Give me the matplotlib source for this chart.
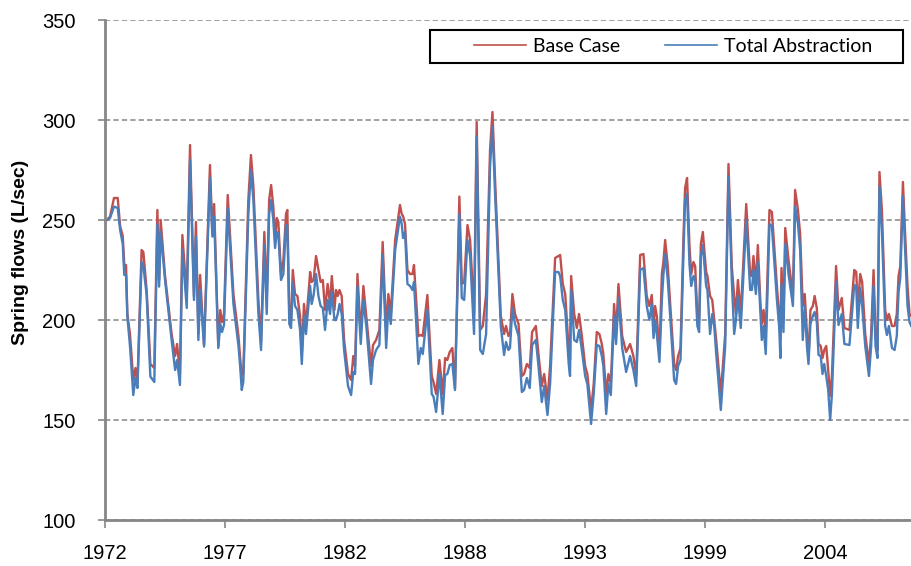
import matplotlib
matplotlib.use("Agg")
import matplotlib.pyplot as plt
from matplotlib.patches import Rectangle

plt.rcParams["font.family"] = ["Liberation Sans", "DejaVu Sans"]

# decimal year of each reading
dates = [
    1972.08, 1972.23, 1972.41, 1972.58, 1972.69, 1972.81, 1972.88, 1972.96, 1973.02, 1973.14,
    1973.29, 1973.39, 1973.48, 1973.67, 1973.75, 1973.90, 1974.07, 1974.25, 1974.39, 1974.47,
    1974.54, 1974.74, 1975.04, 1975.20, 1975.29, 1975.42, 1975.53, 1975.73, 1975.88, 1976.06,
    1976.15, 1976.26, 1976.34, 1976.52, 1976.79, 1976.90, 1976.98, 1977.17, 1977.26, 1977.34,
    1977.43, 1977.60, 1977.86, 1978.09, 1978.16, 1978.24, 1978.31, 1978.54, 1978.66, 1978.77,
    1979.00, 1979.12, 1979.27, 1979.38, 1979.49, 1979.58, 1979.68, 1979.76, 1979.84, 1979.91,
    1980.03, 1980.14, 1980.26, 1980.32, 1980.41, 1980.49, 1980.57, 1980.67, 1980.78, 1980.90,
    1980.98, 1981.08, 1981.17, 1981.36, 1981.43, 1981.52, 1981.63, 1981.74, 1981.84, 1981.94,
    1982.04, 1982.16, 1982.27, 1982.35, 1982.47, 1982.54, 1982.62, 1982.70, 1982.80, 1982.91,
    1983.09, 1983.23, 1983.33, 1983.41, 1983.52, 1983.67, 1983.79, 1983.94, 1984.14, 1984.23,
    1984.37, 1984.52, 1984.67, 1984.83, 1984.93, 1985.04, 1985.24, 1985.46, 1985.54, 1985.60,
    1985.69, 1985.80, 1985.92, 1986.03, 1986.10, 1986.30, 1986.41, 1986.50, 1986.71, 1986.91,
    1986.99, 1987.11, 1987.26, 1987.41, 1987.52, 1987.62, 1987.73, 1987.85, 1987.97, 1988.17,
    1988.28, 1988.39, 1988.54, 1988.66, 1988.84, 1988.96, 1989.12, 1989.24, 1989.39, 1989.57,
    1989.68, 1989.80, 1990.06, 1990.21, 1990.30, 1990.41, 1990.48, 1990.59, 1990.71, 1990.87,
    1991.02, 1991.12, 1991.25, 1991.38, 1991.49, 1991.66, 1991.78, 1991.93, 1992.04, 1992.19,
    1992.31, 1992.54, 1992.69, 1992.77, 1992.89, 1993.00, 1993.16, 1993.22, 1993.27, 1993.41,
    1993.53, 1993.63, 1993.76, 1993.91, 1994.01, 1994.18, 1994.30, 1994.44, 1994.56, 1994.67,
    1994.74, 1994.87, 1994.97, 1995.08, 1995.23, 1995.32, 1995.43, 1995.60, 1995.78, 1995.96,
    1996.11, 1996.24, 1996.42, 1996.57, 1996.72, 1996.84, 1996.95, 1997.03, 1997.10, 1997.18,
    1997.30, 1997.41, 1997.48, 1997.56, 1997.68, 1997.79, 1997.97, 1998.06, 1998.15, 1998.26,
    1998.40, 1998.47, 1998.56, 1998.67, 1998.75, 1998.85, 1998.93, 1999.03, 1999.11, 1999.19,
    1999.28, 1999.43, 1999.49, 1999.61, 1999.71, 1999.80, 1999.89, 2000.10, 2000.30, 2000.45,
    2000.60, 2000.71, 2000.79, 2000.88, 2001.01, 2001.26, 2001.44, 2001.52, 2001.59, 2001.70,
    2001.79, 2001.90, 2001.97, 2002.05, 2002.15, 2002.32, 2002.43, 2002.66, 2002.76, 2002.82,
    2002.87, 2002.96, 2003.04, 2003.19, 2003.39, 2003.49, 2003.62, 2003.72, 2003.84, 2003.93,
    2004.03, 2004.10, 2004.19, 2004.30, 2004.38, 2004.48, 2004.56, 2004.66, 2004.74, 2004.82,
    2004.91, 2005.00, 2005.09, 2005.17, 2005.36, 2005.47, 2005.62, 2005.74, 2005.97, 2006.19,
    2006.28, 2006.35, 2006.46, 2006.55, 2006.69, 2006.86, 2006.96, 2007.07, 2007.16, 2007.25,
    2007.34, 2007.45, 2007.60, 2007.68, 2007.77, 2007.91, 2008.03, 2008.13, 2008.21, 2008.29,
    2008.41, 2008.51, 2008.62, 2008.71, 2008.79,
]

base_case = [
    250, 251.7, 261, 261, 247, 242, 227.5, 227.5, 203, 193,
    170, 176, 168, 235, 234, 215, 178, 176, 255, 220,
    250, 222, 193, 182, 188, 173, 242.5, 212, 287.5, 212,
    249, 193, 222.5, 187.5, 277.5, 243, 258, 187, 205, 199,
    203, 262.5, 213, 192, 182, 172, 173, 260, 282.5, 267,
    210, 189, 244, 210, 260, 267.5, 256.7, 240, 251, 249,
    223, 230, 253, 255, 203, 200, 225, 213, 212, 202,
    183, 208, 197, 224, 219, 220, 232, 225, 219, 220,
    205, 218, 208, 222, 205, 215, 212, 215, 212, 190,
    173, 170, 182, 177, 223, 193, 217, 200, 177, 187.5,
    190, 195, 239, 195, 213, 203, 240, 257.5, 253, 252,
    248, 225, 223, 223, 227.5, 192, 192.5, 192, 212.5, 172,
    169, 163, 180, 163, 181, 180, 184, 186, 166, 261.7,
    218, 219, 247.5, 240, 203, 299, 195, 197, 213, 285,
    304, 270, 202, 193, 197, 192, 192.5, 213, 203, 198,
    172, 173, 178, 176, 194, 197, 183, 167, 173, 160,
    177, 231, 232, 232.5, 218, 213, 185, 180, 222, 203,
    196, 203, 192, 177, 173, 155, 168, 194, 193, 188,
    183, 163, 173, 168, 208, 193, 218, 192, 184, 188,
    182, 172, 232.5, 233, 212, 207, 212.5, 197, 207, 202,
    183, 223, 229, 240, 227, 208, 178, 175, 182, 186,
    243, 266, 271, 237, 223, 229, 227, 202, 200, 238,
    244, 224, 222, 212, 210, 200, 190, 163, 193, 278,
    227, 212, 203, 220, 203, 258, 222.5, 222, 232, 218,
    237.5, 210, 198, 205, 193, 255, 254, 217, 202, 195,
    226, 200, 246, 230, 212, 265, 255, 243, 207, 213,
    193, 180, 205, 207, 212, 206, 188, 187, 181, 185,
    187, 175, 162, 172, 227, 205, 211, 196, 195, 225,
    224, 205, 223, 219, 193, 178, 193, 225, 193, 185,
    274, 255, 205, 200, 203, 197, 197, 203, 222, 227,
    269, 243, 217, 203, 202,
]

total_abstraction = [
    250, 251, 256.7, 256, 245, 238, 222.5, 222.5, 201.7, 187,
    162.5, 171, 166, 229, 227, 212.5, 171.7, 169, 248, 216.7,
    244, 220, 190, 175, 180, 167.5, 235, 206, 280, 210,
    241.7, 190, 215, 186.7, 271, 241.7, 251.7, 186, 198, 194,
    197.5, 256, 208, 187, 178, 165, 169, 253, 275, 260,
    203, 185, 237.5, 203, 253, 260, 250, 236, 244, 243,
    220, 223, 247.5, 247, 198, 196, 219, 207, 205, 195,
    178, 202, 193, 217, 208, 212.5, 223, 212, 207, 206,
    195, 210, 203, 214, 200, 200, 203, 208, 203, 185,
    167, 162.5, 174, 173, 217, 188, 210, 195, 168, 180,
    185, 187.5, 232.5, 186, 207, 198, 235, 251.7, 248, 241,
    244, 218, 217, 215, 219, 178, 186, 183, 205, 163,
    161.7, 154, 173, 153, 172.5, 173, 177.5, 178, 165, 253,
    211, 210, 240, 232, 193, 291.7, 185, 183, 193, 276.7,
    296.7, 263, 197, 182.5, 189, 185, 186, 206, 198, 192,
    164, 165, 171, 166, 187.5, 190, 177, 159, 167, 152.5,
    168, 224, 224, 222, 210, 205, 178, 172, 215, 190,
    189, 195, 185, 172, 168, 148, 163, 187.5, 187, 182,
    177, 153, 168, 162.5, 202, 188, 211, 186, 174, 182,
    175, 167, 225, 226, 207, 200, 208, 191, 200, 193,
    179, 210, 222.5, 233, 220, 202, 170, 168, 177, 180,
    235, 260, 263, 228, 217, 222, 220, 197, 194, 232,
    237.5, 217, 215, 193, 203, 197, 183, 155, 187, 271.7,
    220, 193, 200, 212, 196, 250, 215, 215, 225, 213,
    229, 205, 190, 197, 183, 248, 247, 210, 197, 181,
    218, 194, 238, 223, 207, 256.7, 248, 235, 190, 207,
    187, 178, 198, 202, 204, 199, 182.5, 182, 173, 178,
    172, 165, 150, 163, 219, 197.5, 203, 188, 187.5, 217.5,
    216.7, 196, 216, 207, 187, 172, 187, 217, 187, 181,
    266.7, 245, 197, 192.5, 197, 186, 185, 192, 214, 221,
    262, 235, 207, 199, 197,
]

tick_labels = ["1972", "1977", "1982", "1988", "1993", "1999", "2004"]

fig = plt.figure(figsize=(9.11, 5.66), dpi=100)
ax = fig.add_axes([105 / 911, 1 - 520 / 566, 807 / 911, 500 / 566])

ax.plot(dates, base_case, color="#C0504D", lw=1.7, label="Base Case")
ax.plot(dates, total_abstraction, color="#4A7EBB", lw=1.7, label="Total Abstraction")

# Excel date axis: a major tick every 2000 days
ticks = [1972 + i * 2000 / 365.25 for i in range(len(tick_labels))]
ax.set_xticks(ticks)
ax.set_xticklabels(tick_labels)
ax.set_xlim(1972.0, 1972 + 13450 / 365.25)
ax.set_ylim(100, 350)
ax.set_yticks([100, 150, 200, 250, 300, 350])

ax.yaxis.grid(True, linestyle=(0, (3.5, 2)), color="#868686", lw=1.1)
ax.set_axisbelow(True)
for s in ["top", "right"]:
    ax.spines[s].set_visible(False)
for s in ["left", "bottom"]:
    ax.spines[s].set_color("#868686")
    ax.spines[s].set_linewidth(2)

ax.tick_params(axis="both", colors="#868686", width=1.2, length=5,
               labelcolor="black", labelsize=14.5)
ax.tick_params(axis="x", pad=11, length=6)
ax.tick_params(axis="y", pad=16)

fig.text(21 / 911, 1 - 252 / 566, "Spring flows (L/sec)", rotation=90,
         ha="center", va="center", fontsize=14, fontweight="bold")

# legend box (Excel-style, wider than its content)
ax.add_patch(Rectangle((0.4027, 0.914), 0.5861, 0.066, transform=ax.transAxes,
                       fill=False, edgecolor="black", lw=1.5, zorder=5))
leg = ax.legend(loc="center left", bbox_to_anchor=(0.457, 0.947), ncol=2,
                frameon=False, borderaxespad=0, borderpad=0,
                handlelength=2.68, columnspacing=2.3, handletextpad=0.36,
                prop={"family": "Lato", "size": 14})
for line in leg.get_lines():
    line.set_linewidth(1.2)

plt.savefig("out.png", dpi=100)
